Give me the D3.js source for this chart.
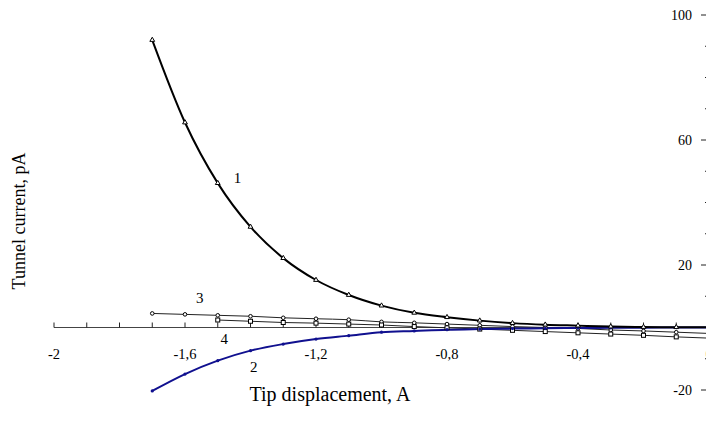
<!DOCTYPE html>
<html><head><meta charset="utf-8">
<script src="https://cdn.jsdelivr.net/npm/d3@7"></script>
<style>body{margin:0;background:#fff}svg{display:block}text{font-family:"Liberation Serif","Times New Roman",serif;fill:#000}</style>
</head><body><svg id="c" width="706" height="437"></svg>
<script>
const xs1 = [-1.7,-1.6,-1.5,-1.4,-1.3,-1.2,-1.1,-1.0,-0.9,-0.8,-0.7,-0.6,-0.5,-0.4,-0.3,-0.2,-0.1,0];
const curve1 = [92,65.6,46.2,32.2,22.2,15.2,10.4,7.0,4.7,3.3,2.2,1.4,0.9,0.6,0.3,0.15,0.1,0.05];
const curve2 = [-20.3,-14.9,-10.6,-7.4,-5.3,-3.7,-2.6,-1.5,-1.1,-0.7,-0.5,-0.35,-0.25,-0.15,-0.1,-0.05,-0.03,0];
const curve3 = [4.5,4.2,3.9,3.6,3.1,2.8,2.5,1.8,1.5,1.1,0.7,0.3,0.0,-0.3,-0.8,-1.1,-1.5,-1.9];
const xs4 = [-1.5,-1.4,-1.3,-1.2,-1.1,-1.0,-0.9,-0.8,-0.7,-0.6,-0.5,-0.4,-0.3,-0.2,-0.1,0];
const curve4 = [2.4,2.0,1.6,1.4,1.1,0.8,0.3,-0.1,-0.5,-0.9,-1.3,-1.7,-2.1,-2.5,-3.0,-3.4];
const xTickLabels = [-2,-1.6,-1.2,-0.8,-0.4,0];
const yTickLabels = [-20,20,60,100];
const curveLabels = [
  {t:"1", x:-1.44, y:48},
  {t:"2", x:-1.39, y:-12.5},
  {t:"3", x:-1.555, y:9.5},
  {t:"4", x:-1.48, y:-3.7}
];

const svg = d3.select("#c");
const x = d3.scaleLinear().domain([-2,0]).range([54,709]);
const y = d3.scaleLinear().domain([-20,100]).range([390,15]);
const fmt = d => d===0 ? "0" : String(d).replace(".",",");

// x axis at y=0
const xa = svg.append("g").attr("transform",`translate(0,${y(0)})`);
xa.append("line").attr("x1",x(-2)).attr("x2",x(0)).attr("stroke","#444").attr("stroke-width",1.2);
xa.selectAll("line.t").data(d3.range(0,21).map(i=>-2+i*0.1)).join("line").attr("class","t")
  .attr("x1",d=>x(d)).attr("x2",d=>x(d)).attr("y1",0).attr("y2",-5).attr("stroke","#222");
xa.selectAll("text").data(xTickLabels).join("text")
  .attr("x",d=>x(d)).attr("y",31).attr("text-anchor","middle").style("font-size","14.5px").text(fmt);

// y axis at right (x=0)
const ya = svg.append("g").attr("transform",`translate(${x(0)},0)`);
ya.append("line").attr("y1",y(-20)).attr("y2",y(100)).attr("stroke","#444");
ya.selectAll("line.m").data(d3.range(-20,101,10)).join("line").attr("class","m")
  .attr("x1",d=>yTickLabels.includes(d)?-8:-4).attr("x2",0).attr("y1",d=>y(d)).attr("y2",d=>y(d)).attr("stroke","#222");
ya.selectAll("text").data(yTickLabels).join("text")
  .attr("x",-17).attr("y",d=>y(d)).attr("dy","0.35em").attr("text-anchor","end").style("font-size","14px").text(d=>d);

const line = d3.line().x(d=>x(d[0])).y(d=>y(d[1])).curve(d3.curveMonotoneX);
const s1 = xs1.map((v,i)=>[v,curve1[i]]);
const s2 = xs1.map((v,i)=>[v,curve2[i]]);
const s3 = xs1.map((v,i)=>[v,curve3[i]]);
const s4 = xs4.map((v,i)=>[v,curve4[i]]);

svg.append("path").datum(s3).attr("d",line).attr("fill","none").attr("stroke","#222").attr("stroke-width",1);
svg.append("path").datum(s4).attr("d",line).attr("fill","none").attr("stroke","#222").attr("stroke-width",1);
svg.append("path").datum(s2).attr("d",line).attr("fill","none").attr("stroke","#10108f").attr("stroke-width",2);
svg.append("path").datum(s1).attr("d",line).attr("fill","none").attr("stroke","#000").attr("stroke-width",2);

// markers
svg.append("g").selectAll("circle").data(s3).join("circle")
  .attr("cx",d=>x(d[0])).attr("cy",d=>y(d[1])).attr("r",1.8).attr("fill","#fff").attr("stroke","#000").attr("stroke-width",1);
svg.append("g").selectAll("rect").data(s4).join("rect")
  .attr("x",d=>x(d[0])-2).attr("y",d=>y(d[1])-2).attr("width",4).attr("height",4).attr("fill","#fff").attr("stroke","#000").attr("stroke-width",1);
svg.append("g").selectAll("circle").data(s2).join("circle")
  .attr("cx",d=>x(d[0])).attr("cy",d=>y(d[1])).attr("r",1.6).attr("fill","#10108f");
const tri = d3.symbol().type(d3.symbolTriangle).size(10);
svg.append("g").selectAll("path").data(s1).join("path")
  .attr("transform",d=>`translate(${x(d[0])},${y(d[1])})`).attr("d",tri).attr("fill","#fff").attr("stroke","#000").attr("stroke-width",1);

svg.append("g").selectAll("text").data(curveLabels).join("text")
  .attr("x",d=>x(d.x)).attr("y",d=>y(d.y)).attr("dy","0.35em").attr("text-anchor","middle").style("font-size","15px").text(d=>d.t);

// titles
svg.append("text").attr("x",330).attr("y",401).attr("text-anchor","middle").style("font-size","20px").text("Tip displacement, A");
svg.append("text").attr("transform","translate(25,221) rotate(-90)").attr("text-anchor","middle").style("font-size","18px").text("Tunnel current, pA");
</script></body></html>
